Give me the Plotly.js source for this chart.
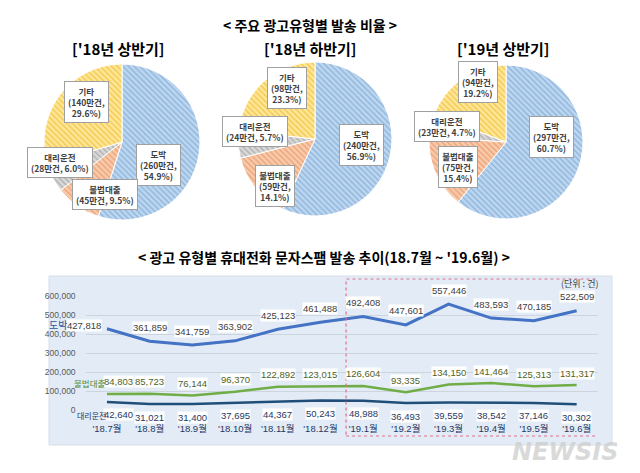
<!DOCTYPE html>
<html><head><meta charset="utf-8">
<script src="https://cdn.plot.ly/plotly-3.0.1.min.js"></script>
<style>html,body{margin:0;padding:0;background:#fff;}#chart{width:640px;height:473px;}</style>
</head><body><div id="chart"></div>
<script>
// ---- Pie data ----
const pieCategories = ['도박', '불법대출', '대리운전', '기타'];
const pieTitles = ["['18년 상반기]", "['18년 하반기]", "['19년 상반기]"];
const pieCounts1 = [260, 45, 28, 140];      // 만건
const piePct1 = [54.9, 9.5, 6.0, 29.6];
const pieCounts2 = [240, 59, 24, 98];
const piePct2 = [56.9, 14.1, 5.7, 23.3];
const pieCounts3 = [297, 75, 23, 94];
const piePct3 = [60.7, 15.4, 4.7, 19.2];

// ---- Line data ----
const months = ["'18.7월", "'18.8월", "'18.9월", "'18.10월", "'18.11월", "'18.12월", "'19.1월", "'19.2월", "'19.3월", "'19.4월", "'19.5월", "'19.6월"];
const seriesNames = ['도박', '불법대출', '대리운전'];
const gambling = [427818, 361859, 341759, 363902, 425123, 461488, 492408, 447601, 557446, 483593, 470185, 522509];
const illegalLoan = [84803, 85723, 76144, 96370, 122892, 123015, 126604, 93335, 134150, 141464, 125313, 131317];
const designatedDriver = [42640, 31021, 31400, 37695, 44367, 50243, 48988, 36493, 39559, 38542, 37146, 30302];

const W = 640, H = 473;
const px = x => x / W;
const py = y => 1 - y / H;

const NARROW = 'Liberation Sans Narrow, Liberation Sans, Noto Sans CJK KR';
const KR = 'Noto Sans CJK KR';
const sliceBg = ['#bdd7ee', '#f8cbad', '#d9d9d9', '#ffe699'];
const sliceFg = ['#8eb4df', '#eda276', '#b0b0b0', '#f2c94c'];

const pieDomains = [
  {x: [px(44), px(200)], y: [py(220), py(64)]},
  {x: [px(238), px(392)], y: [py(216), py(62)]},
  {x: [px(429), px(583)], y: [py(219), py(65)]}
];
const pieData = [[pieCounts1, piePct1], [pieCounts2, piePct2], [pieCounts3, piePct3]];

const traces = [];
pieData.forEach((d, i) => {
  traces.push({
    type: 'pie', values: d[1], labels: pieCategories, sort: false, direction: 'clockwise', rotation: 0,
    domain: pieDomains[i], textinfo: 'none', hoverinfo: 'label+percent', showlegend: false,
    marker: {colors: sliceBg, line: {color: '#ffffff', width: 1},
      pattern: {shape: '\\', bgcolor: sliceBg, fgcolor: sliceFg, size: 4, solidity: 0.35, fillmode: 'replace'}}
  });
});

// line traces
const lineColors = ['#4472c4', '#70ad47', '#1f4e79'];
const lineSeries = [gambling, illegalLoan, designatedDriver];
lineSeries.forEach((s, i) => {
  traces.push({type: 'scatter', mode: 'lines', x: months, y: s, name: seriesNames[i],
    line: {color: lineColors[i], width: i === 0 ? 3 : 2.5}, xaxis: 'x', yaxis: 'y', showlegend: false});
});

const annotations = [];
function paperText(text, x, y, font, extra) {
  return Object.assign({text: text, x: px(x), y: py(y), xref: 'paper', yref: 'paper', showarrow: false,
    xanchor: 'center', yanchor: 'middle', font: font}, extra || {});
}
// titles
annotations.push(paperText('< 주요 광고유형별 발송 비율 >', 310, 25, {family: KR, size: 14, color: '#000', weight: 'bold'}));
const subX = [118, 310, 503];
pieTitles.forEach((t, i) => annotations.push(paperText(t, subX[i], 49, {family: KR, size: 15, color: '#000', weight: 'bold'})));
annotations.push(paperText("< 광고 유형별 휴대전화 문자스팸 발송 추이(18.7월 ~ '19.6월) >", 324, 257, {family: KR, size: 14, color: '#000', weight: 'bold'}));

// pie label boxes (centres, px)
const pieLabelPos = [
  [[158, 165], [105, 194], [60, 162], [86, 102]],
  [[361, 145], [275, 186], [255, 131], [287, 88]],
  [[551, 137], [458, 167], [447, 126], [478, 82]]
];
const oneLine = [[false, true, true, false], [false, false, true, false], [false, false, true, false]];
pieData.forEach((d, i) => {
  pieCategories.forEach((c, j) => {
    const sep = oneLine[i][j] ? ' ' : '<br>';
    const txt = c + '<br>(' + d[0][j] + '만건,' + sep + d[1][j].toFixed(1) + '%)';
    annotations.push(paperText(txt, pieLabelPos[i][j][0], pieLabelPos[i][j][1],
      {family: KR, size: 8.5, color: '#404040', weight: 'bold'},
      {bgcolor: '#ffffff', bordercolor: '#a0a0a0', borderwidth: 1, borderpad: 3, align: 'center'}));
  });
});

// line data labels
const valFont = ['#404040', '#4f6228', '#1f3864'];
const yShift = [14, 12, -13];
lineSeries.forEach((s, i) => {
  s.forEach((v, k) => {
    const a = {text: v.toLocaleString('en-US'), x: months[k], y: v, xref: 'x', yref: 'y', showarrow: false,
      xanchor: 'center', yanchor: 'middle', bgcolor: '#ffffff', borderpad: 0, yshift: yShift[i],
      font: {family: NARROW, size: 9.5, color: valFont[i]}};
    if (k === 0) {
      if (i === 0) { a.xanchor = 'right'; a.xshift = -5; a.yshift = 3; }
      else { a.xshift = 12; }
    }
    annotations.push(a);
  });
  const nm = {text: seriesNames[i], x: months[0], y: s[0], xref: 'x', yref: 'y', showarrow: false, xanchor: 'right', yanchor: 'middle',
    font: {family: KR, size: i === 0 ? 10 : (i === 1 ? 8.5 : 8), color: i === 1 ? '#5a8a2e' : (i === 0 ? '#2f5597' : '#1f3864')}};
  if (i === 0) { nm.xshift = -38; nm.yshift = 4; }
  if (i === 1) { nm.xshift = 0; nm.yshift = 11; }
  if (i === 2) { nm.xshift = 1; nm.yshift = -14; }
  annotations.push(nm);
});

annotations.push(paperText('(단위 : 건)', 600, 283, {family: KR, size: 9, color: '#404040'}, {xanchor: 'right'}));
annotations.push(paperText('NEWSIS', 620, 452, {family: 'DejaVu Sans', size: 24, color: 'rgba(205,205,205,0.75)', weight: 'bold', style: 'italic'}, {xanchor: 'right'}));

const layout = {
  width: W, height: H, margin: {l: 0, r: 0, t: 0, b: 0},
  paper_bgcolor: '#ffffff', plot_bgcolor: 'rgba(0,0,0,0)',
  xaxis: {domain: [px(85.6), px(598)], type: 'category', range: [-0.5, 11.5], showgrid: false, zeroline: false, showline: false,
    ticks: '', ticklabelstandoff: 11, tickfont: {family: NARROW, size: 9.5, color: '#1f3864'}, fixedrange: true},
  yaxis: {domain: [py(410), py(296)], range: [0, 600000], tickvals: [0, 100000, 200000, 300000, 400000, 500000, 600000],
    tickformat: ',', showgrid: true, gridcolor: '#ccd5de', gridwidth: 1, zeroline: false, showline: false, ticks: '',
    ticklabelstandoff: 9, tickfont: {family: NARROW, size: 8.5, color: '#595959'}, fixedrange: true},
  shapes: [
    {type: 'rect', xref: 'paper', yref: 'paper', x0: px(49), x1: px(612), y0: py(445), y1: py(276),
      fillcolor: '#e3ecf6', line: {color: '#d6dee8', width: 1}, layer: 'below'},
    {type: 'rect', xref: 'x', yref: 'paper', x0: 5.6, x1: 11.6, y0: py(436), y1: py(279),
      fillcolor: 'rgba(0,0,0,0)', line: {color: '#e0708c', width: 1.2, dash: 'dot'}, layer: 'above'}
  ],
  annotations: annotations,
  showlegend: false
};

Plotly.newPlot('chart', traces, layout, {displayModeBar: false, staticPlot: true});
</script>
</body></html>
